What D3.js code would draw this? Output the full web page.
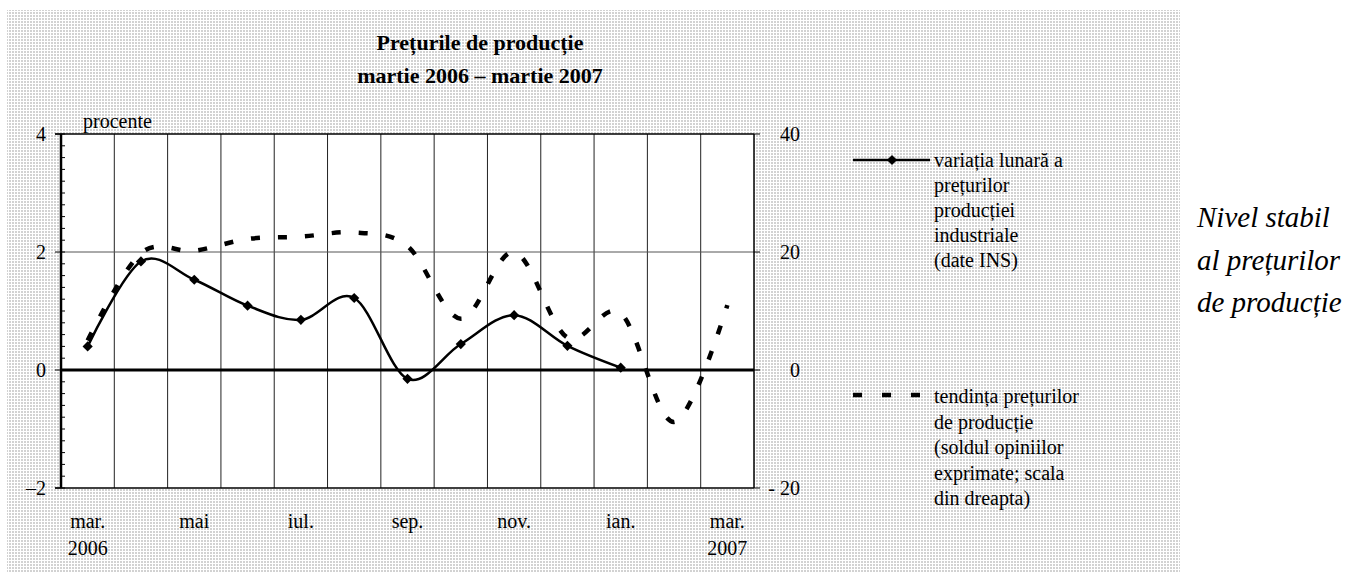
<!DOCTYPE html>
<html>
<head>
<meta charset="utf-8">
<script src="https://d3js.org/d3.v7.min.js"></script>
<style>
  body { margin: 0; background: #fff; }
  text { font-family: "Liberation Serif", "Times New Roman", serif; fill: #000; }
</style>
</head>
<body>
<div id="container"></div>
<script>
// data
var months = ["mar.", "apr.", "mai", "iun.", "iul.", "aug.", "sep.", "oct.", "nov.", "dec.", "ian.", "feb.", "mar."];
var years = ["2006", "", "", "", "", "", "", "", "", "", "", "", "2007"];
var monthly = [0.4, 1.84, 1.53, 1.09, 0.85, 1.22, -0.15, 0.44, 0.93, 0.41, 0.04, null, null];
var trend = [5, 19.8, 20.2, 22.2, 22.6, 23.3, 21, 8.7, 20, 5.5, 9.6, -8.8, 11];
var leftTicks = [4, 2, 0, -2];
var leftLabels = ["4", "2", "0", "\u20132"];
var rightTicks = [40, 20, 0, -20];
var rightLabels = ["40", "20", "0", "- 20"];
var legend1 = ["varia\u021bia lunar\u0103 a", "pre\u021burilor", "produc\u021biei", "industriale", "(date INS)"];
var legend2 = ["tendin\u021ba pre\u021burilor", "de produc\u021bie", "(soldul opiniilor", "exprimate; scala", "din dreapta)"];
var sideText = ["Nivel stabil", "al pre\u021burilor", "de produc\u021bie"];

var width = 1360, height = 578;
var pLeft = 61, pRight = 754, pTop = 134, pBottom = 488;

var svg = d3.select("#container").append("svg")
    .attr("width", width)
    .attr("height", height);

var defs = svg.append("defs");
var pat = defs.append("pattern")
    .attr("id", "dots")
    .attr("width", 3).attr("height", 3)
    .attr("patternUnits", "userSpaceOnUse");
pat.append("rect").attr("width", 3).attr("height", 3).attr("fill", "#fff");
pat.append("rect").attr("width", 2).attr("height", 2).attr("fill", "#d2d2d2");

// dotted chart background
svg.append("rect")
    .attr("x", 7).attr("y", 10)
    .attr("width", 1173).attr("height", 562)
    .attr("fill", "url(#dots)");

var x = d3.scaleBand().domain(d3.range(months.length)).range([pLeft, pRight]);
var yL = d3.scaleLinear().domain([-2, 4]).range([pBottom, pTop]);
var yR = d3.scaleLinear().domain([-20, 40]).range([pBottom, pTop]);

// plot area
svg.append("rect")
    .attr("x", pLeft).attr("y", pTop)
    .attr("width", pRight - pLeft).attr("height", pBottom - pTop)
    .attr("fill", "#fff");

// vertical gridlines at category boundaries
svg.append("g").selectAll("line")
    .data(d3.range(1, months.length))
    .enter().append("line")
    .attr("x1", function(d) { return x(d); })
    .attr("x2", function(d) { return x(d); })
    .attr("y1", pTop).attr("y2", pBottom)
    .attr("stroke", "#222").attr("stroke-width", 1);

// horizontal gridline
svg.append("line")
    .attr("x1", pLeft).attr("x2", pRight)
    .attr("y1", yL(2)).attr("y2", yL(2))
    .attr("stroke", "#555").attr("stroke-width", 1);

// plot border
svg.append("line").attr("x1", pLeft - 6).attr("x2", pRight).attr("y1", pTop).attr("y2", pTop)
    .attr("stroke", "#000").attr("stroke-width", 1.5);
svg.append("line").attr("x1", pLeft - 6).attr("x2", pRight).attr("y1", pBottom).attr("y2", pBottom)
    .attr("stroke", "#000").attr("stroke-width", 1.5);
svg.append("line").attr("x1", pRight).attr("x2", pRight).attr("y1", pTop).attr("y2", pBottom)
    .attr("stroke", "#000").attr("stroke-width", 1.5);

// left axis: minor ticks inside, majors out
var minor = d3.range(-2, 4.01, 0.2);
svg.append("g").selectAll("line")
    .data(minor)
    .enter().append("line")
    .attr("x1", pLeft).attr("x2", pLeft + 4)
    .attr("y1", function(d) { return yL(d); })
    .attr("y2", function(d) { return yL(d); })
    .attr("stroke", "#000").attr("stroke-width", 1);
svg.append("g").selectAll("line")
    .data(leftTicks)
    .enter().append("line")
    .attr("x1", pLeft - 6).attr("x2", pLeft)
    .attr("y1", function(d) { return yL(d); })
    .attr("y2", function(d) { return yL(d); })
    .attr("stroke", "#000").attr("stroke-width", 1);
svg.append("g").selectAll("text")
    .data(leftTicks)
    .enter().append("text")
    .attr("x", 46)
    .attr("y", function(d) { return yL(d) + 6.5; })
    .attr("text-anchor", "end")
    .attr("font-size", 20)
    .text(function(d, i) { return leftLabels[i]; });

// right axis
svg.append("g").selectAll("line")
    .data(rightTicks)
    .enter().append("line")
    .attr("x1", pRight).attr("x2", pRight + 6)
    .attr("y1", function(d) { return yR(d); })
    .attr("y2", function(d) { return yR(d); })
    .attr("stroke", "#000").attr("stroke-width", 1);
svg.append("g").selectAll("text")
    .data(rightTicks)
    .enter().append("text")
    .attr("x", 800)
    .attr("y", function(d) { return yR(d) + 6.5; })
    .attr("text-anchor", "end")
    .attr("font-size", 20)
    .text(function(d, i) { return rightLabels[i]; });

// zero line
svg.append("line")
    .attr("x1", pLeft).attr("x2", pRight)
    .attr("y1", yL(0)).attr("y2", yL(0))
    .attr("stroke", "#000").attr("stroke-width", 3);

// left axis line
svg.append("line")
    .attr("x1", pLeft).attr("x2", pLeft)
    .attr("y1", pTop).attr("y2", pBottom)
    .attr("stroke", "#000").attr("stroke-width", 2.5);

// category labels, every second month
var cx = function(i) { return x(i) + x.bandwidth() / 2; };
svg.append("g").selectAll("text")
    .data(d3.range(0, months.length, 2))
    .enter().append("text")
    .attr("x", function(i) { return cx(i); })
    .attr("y", 528)
    .attr("text-anchor", "middle")
    .attr("font-size", 20)
    .text(function(i) { return months[i]; });
svg.append("g").selectAll("text")
    .data(d3.range(months.length).filter(function(i) { return years[i]; }))
    .enter().append("text")
    .attr("x", function(i) { return cx(i); })
    .attr("y", 555)
    .attr("text-anchor", "middle")
    .attr("font-size", 20)
    .text(function(i) { return years[i]; });

svg.append("text")
    .attr("x", 83).attr("y", 128)
    .attr("font-size", 20)
    .text("procente");

// dashed trend line (right scale)
var trendLine = d3.line()
    .x(function(d, i) { return cx(i); })
    .y(function(d) { return yR(d); })
    .curve(d3.curveCardinal.tension(0));
svg.append("path")
    .datum(trend)
    .attr("d", trendLine)
    .attr("fill", "none")
    .attr("stroke", "#000")
    .attr("stroke-width", 4.5)
    .attr("stroke-dasharray", "9,18");

// solid monthly line (left scale)
var monthLine = d3.line()
    .defined(function(d) { return d != null; })
    .x(function(d, i) { return cx(i); })
    .y(function(d) { return yL(d); })
    .curve(d3.curveCardinal.tension(0));
svg.append("path")
    .datum(monthly)
    .attr("d", monthLine)
    .attr("fill", "none")
    .attr("stroke", "#000")
    .attr("stroke-width", 2.5);

var diamond = d3.symbol().type(d3.symbolSquare).size(52);
svg.append("g").selectAll("path")
    .data(monthly.map(function(v, i) { return {v: v, i: i}; }).filter(function(d) { return d.v != null; }))
    .enter().append("path")
    .attr("d", diamond)
    .attr("transform", function(d) { return "translate(" + cx(d.i) + "," + yL(d.v) + ") rotate(45)"; })
    .attr("fill", "#000");

// title
svg.append("text")
    .attr("x", 480).attr("y", 50)
    .attr("text-anchor", "middle")
    .attr("font-size", 22).attr("font-weight", "bold")
    .text("Pre\u021burile de produc\u021bie");
svg.append("text")
    .attr("x", 480).attr("y", 83)
    .attr("text-anchor", "middle")
    .attr("font-size", 22).attr("font-weight", "bold")
    .text("martie 2006 \u2013 martie 2007");

// legend
var lg = svg.append("g");
lg.append("line")
    .attr("x1", 853).attr("x2", 930).attr("y1", 160).attr("y2", 160)
    .attr("stroke", "#000").attr("stroke-width", 2.5);
lg.append("path")
    .attr("d", diamond)
    .attr("transform", "translate(892,160) rotate(45)")
    .attr("fill", "#000");
lg.selectAll("text.l1")
    .data(legend1)
    .enter().append("text")
    .attr("class", "l1")
    .attr("x", 934)
    .attr("y", function(d, i) { return 167 + i * 25; })
    .attr("font-size", 20)
    .text(function(d) { return d; });

lg.append("line")
    .attr("x1", 853).attr("x2", 921).attr("y1", 395).attr("y2", 395)
    .attr("stroke", "#000").attr("stroke-width", 4.5)
    .attr("stroke-dasharray", "9,20");
lg.selectAll("text.l2")
    .data(legend2)
    .enter().append("text")
    .attr("class", "l2")
    .attr("x", 934)
    .attr("y", function(d, i) { return 403 + i * 25.5; })
    .attr("font-size", 20)
    .text(function(d) { return d; });

// side note
svg.append("g").selectAll("text")
    .data(sideText)
    .enter().append("text")
    .attr("x", 1197)
    .attr("y", function(d, i) { return 227 + i * 42.5; })
    .attr("font-size", 29)
    .attr("font-style", "italic")
    .text(function(d) { return d; });
</script>
</body>
</html>
